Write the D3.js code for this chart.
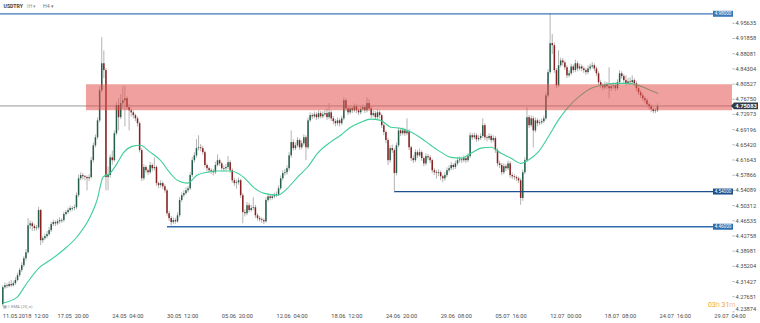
<!DOCTYPE html>
<html><head><meta charset="utf-8">
<script src="https://cdn.jsdelivr.net/npm/d3@7"></script>
<style>
body{margin:0;background:#fff;}
svg{display:block;font-family:Roboto,"Open Sans",sans-serif;}
</style>
</head><body>
<svg id="c" width="760" height="323"></svg>
<script>
const symbol = "USDTRY";
const timeframe = "H4";
const firstOpen = 4.258;
const close = [4.300,4.305,4.303,4.308,4.305,4.310,4.318,4.330,4.343,4.355,
4.372,4.387,4.454,4.459,4.452,4.447,4.449,4.492,4.417,4.422,
4.427,4.432,4.442,4.457,4.462,4.459,4.464,4.467,4.467,4.482,
4.487,4.492,4.497,4.497,4.499,4.529,4.571,4.579,4.576,4.574,
4.571,4.574,4.616,4.653,4.673,4.715,4.790,4.857,4.840,4.574,
4.579,4.623,4.616,4.683,4.753,4.723,4.758,4.765,4.770,4.748,
4.740,4.735,4.728,4.720,4.708,4.641,4.571,4.599,4.591,4.586,
4.604,4.596,4.599,4.559,4.554,4.559,4.551,4.541,4.484,4.472,
4.462,4.467,4.464,4.479,4.517,4.529,4.534,4.541,4.546,4.579,
4.616,4.628,4.646,4.648,4.646,4.636,4.604,4.596,4.591,4.589,
4.586,4.604,4.616,4.608,4.596,4.596,4.599,4.611,4.591,4.566,
4.559,4.561,4.566,4.529,4.487,4.484,4.504,4.492,4.497,4.499,
4.479,4.472,4.469,4.467,4.464,4.517,4.526,4.522,4.526,4.529,
4.531,4.546,4.571,4.584,4.586,4.596,4.628,4.661,4.646,4.653,
4.666,4.648,4.658,4.673,4.648,4.715,4.728,4.725,4.730,4.723,
4.733,4.725,4.730,4.733,4.723,4.735,4.720,4.713,4.708,4.715,
4.708,4.720,4.765,4.745,4.735,4.745,4.740,4.750,4.740,4.735,
4.743,4.748,4.740,4.758,4.745,4.728,4.733,4.723,4.735,4.728,
4.703,4.686,4.666,4.616,4.646,4.641,4.584,4.653,4.690,4.683,
4.690,4.683,4.688,4.648,4.621,4.616,4.636,4.628,4.636,4.621,
4.608,4.626,4.623,4.616,4.591,4.586,4.584,4.586,4.576,4.571,
4.579,4.591,4.596,4.604,4.599,4.608,4.616,4.618,4.616,4.621,
4.616,4.626,4.678,4.673,4.678,4.668,4.671,4.676,4.703,4.673,
4.671,4.676,4.666,4.671,4.641,4.608,4.604,4.586,4.601,4.596,
4.608,4.579,4.576,4.574,4.571,4.566,4.522,4.586,4.616,4.723,
4.703,4.720,4.690,4.715,4.708,4.710,4.713,4.720,4.777,4.835,
4.907,4.902,4.840,4.802,4.852,4.864,4.859,4.847,4.827,4.832,
4.849,4.840,4.857,4.844,4.849,4.844,4.840,4.835,4.844,4.849,
4.852,4.844,4.832,4.810,4.802,4.797,4.805,4.800,4.795,4.800,
4.802,4.795,4.810,4.832,4.825,4.815,4.807,4.812,4.810,4.815,
4.807,4.795,4.785,4.777,4.770,4.765,4.755,4.750,4.743,4.738,
4.740,4.7508];
const high = [4.305,4.312,4.310,4.315,4.318,4.316,4.325,4.336,4.348,4.362,
4.378,4.395,4.472,4.466,4.464,4.458,4.455,4.500,4.495,4.428,
4.434,4.440,4.450,4.463,4.468,4.466,4.470,4.474,4.472,4.488,
4.492,4.498,4.503,4.502,4.506,4.536,4.580,4.586,4.584,4.580,
4.578,4.581,4.624,4.660,4.680,4.722,4.800,4.922,4.889,4.845,
4.600,4.630,4.640,4.690,4.760,4.770,4.780,4.800,4.802,4.775,
4.755,4.745,4.740,4.732,4.725,4.712,4.646,4.606,4.603,4.595,
4.612,4.608,4.623,4.603,4.563,4.566,4.563,4.556,4.545,4.490,
4.477,4.474,4.472,4.486,4.524,4.536,4.541,4.548,4.552,4.586,
4.624,4.636,4.668,4.678,4.656,4.652,4.640,4.608,4.600,4.596,
4.594,4.612,4.630,4.620,4.612,4.603,4.606,4.626,4.616,4.596,
4.572,4.568,4.573,4.570,4.534,4.494,4.512,4.510,4.505,4.524,
4.505,4.484,4.477,4.474,4.472,4.524,4.533,4.530,4.532,4.535,
4.538,4.553,4.578,4.591,4.594,4.603,4.636,4.690,4.668,4.660,
4.673,4.670,4.665,4.680,4.678,4.722,4.735,4.733,4.737,4.735,
4.740,4.738,4.737,4.741,4.745,4.758,4.740,4.726,4.718,4.722,
4.720,4.727,4.772,4.770,4.750,4.752,4.750,4.757,4.755,4.745,
4.750,4.755,4.752,4.772,4.768,4.750,4.740,4.738,4.742,4.740,
4.732,4.708,4.690,4.672,4.653,4.655,4.646,4.660,4.697,4.695,
4.697,4.695,4.720,4.693,4.652,4.628,4.643,4.641,4.645,4.640,
4.625,4.633,4.631,4.628,4.620,4.596,4.592,4.593,4.590,4.580,
4.586,4.598,4.603,4.611,4.608,4.615,4.623,4.625,4.624,4.628,
4.626,4.633,4.685,4.683,4.685,4.683,4.678,4.683,4.720,4.708,
4.678,4.683,4.681,4.678,4.676,4.646,4.615,4.609,4.608,4.606,
4.615,4.613,4.585,4.581,4.578,4.575,4.571,4.593,4.623,4.748,
4.728,4.727,4.725,4.722,4.720,4.717,4.720,4.727,4.784,4.842,
4.981,4.930,4.908,4.845,4.889,4.871,4.870,4.864,4.852,4.840,
4.856,4.854,4.866,4.862,4.856,4.854,4.849,4.845,4.852,4.856,
4.860,4.857,4.849,4.837,4.815,4.807,4.812,4.810,4.847,4.807,
4.809,4.807,4.817,4.840,4.837,4.830,4.827,4.820,4.822,4.827,
4.820,4.812,4.800,4.790,4.782,4.775,4.770,4.760,4.755,4.748,
4.746,4.757];
const low = [4.253,4.296,4.298,4.300,4.301,4.302,4.306,4.315,4.326,4.338,
4.350,4.366,4.383,4.445,4.440,4.440,4.441,4.444,4.405,4.410,
4.418,4.422,4.428,4.437,4.452,4.452,4.455,4.458,4.460,4.462,
4.478,4.482,4.488,4.490,4.491,4.494,4.524,4.566,4.568,4.566,
4.541,4.564,4.570,4.610,4.648,4.668,4.710,4.785,4.820,4.541,
4.541,4.572,4.605,4.612,4.678,4.690,4.718,4.745,4.700,4.742,
4.690,4.725,4.720,4.713,4.700,4.635,4.564,4.566,4.584,4.579,
4.582,4.588,4.590,4.552,4.546,4.548,4.544,4.535,4.478,4.465,
4.454,4.457,4.458,4.460,4.474,4.512,4.524,4.530,4.536,4.542,
4.574,4.610,4.622,4.640,4.638,4.630,4.598,4.588,4.584,4.582,
4.578,4.582,4.600,4.602,4.590,4.588,4.590,4.594,4.585,4.560,
4.552,4.545,4.555,4.522,4.459,4.476,4.479,4.486,4.488,4.492,
4.472,4.466,4.463,4.460,4.457,4.460,4.512,4.516,4.518,4.521,
4.524,4.527,4.542,4.566,4.578,4.580,4.590,4.622,4.640,4.641,
4.648,4.642,4.643,4.652,4.616,4.643,4.710,4.718,4.720,4.716,
4.718,4.720,4.720,4.725,4.716,4.718,4.713,4.705,4.700,4.702,
4.700,4.703,4.715,4.738,4.728,4.730,4.733,4.735,4.733,4.728,
4.730,4.738,4.733,4.735,4.738,4.721,4.723,4.716,4.718,4.720,
4.696,4.678,4.658,4.604,4.610,4.634,4.536,4.578,4.648,4.676,
4.678,4.676,4.678,4.641,4.614,4.609,4.611,4.621,4.624,4.614,
4.601,4.603,4.616,4.609,4.584,4.579,4.570,4.576,4.566,4.561,
4.565,4.574,4.586,4.591,4.592,4.594,4.603,4.610,4.609,4.611,
4.609,4.611,4.621,4.666,4.668,4.661,4.663,4.666,4.671,4.666,
4.663,4.666,4.659,4.661,4.634,4.601,4.596,4.579,4.581,4.589,
4.591,4.572,4.569,4.567,4.564,4.559,4.505,4.515,4.581,4.611,
4.696,4.698,4.648,4.685,4.700,4.703,4.705,4.708,4.715,4.772,
4.830,4.880,4.833,4.795,4.797,4.847,4.851,4.840,4.820,4.822,
4.827,4.833,4.835,4.837,4.839,4.837,4.833,4.828,4.830,4.839,
4.844,4.837,4.825,4.803,4.795,4.790,4.792,4.793,4.770,4.788,
4.793,4.788,4.790,4.805,4.818,4.808,4.800,4.802,4.803,4.805,
4.800,4.788,4.778,4.770,4.763,4.757,4.748,4.742,4.736,4.733,
4.733,4.736];
// EMA(20) line, read at sample bars
const maBar = [0,6.7,11.4,17.6,22.4,28.6,35.2,41.4,44.8,47.6,51,54.3,57.1,61.9,65.2,70,74.8,79.5,82.9,87.6,92.4,97.1,101.9,108.1,114.3,119,123.8,130.5,135.2,140,144.8,149.5,155.7,160.5,165.2,170,174.8,179.5,184.3,189,193.8,198.6,203.3,208.1,212.9,217.6,222.4,227.1,231.9,236.7,241.4,246.2,249.5,254.3,259,263.8,268.6,273.3,279.5,284.3,290.5,297.1,301.9,306.7,311.4];
const maValue = [4.261,4.275,4.310,4.350,4.367,4.392,4.425,4.474,4.517,4.574,4.584,4.608,4.633,4.651,4.653,4.636,4.616,4.584,4.566,4.559,4.579,4.586,4.589,4.589,4.574,4.549,4.534,4.529,4.546,4.574,4.599,4.633,4.661,4.678,4.698,4.710,4.718,4.715,4.698,4.695,4.686,4.671,4.653,4.636,4.623,4.621,4.633,4.646,4.648,4.633,4.621,4.608,4.616,4.636,4.673,4.715,4.748,4.772,4.795,4.802,4.807,4.807,4.802,4.792,4.782];
const yTicks = [4.95635,4.91858,4.88081,4.84304,4.80527,4.76750,4.72973,4.69196,4.65420,4.61643,4.57866,4.54089,4.50312,4.46535,4.42758,4.38981,4.35204,4.31427,4.27651,4.23874];
const xTickBars = [0,26,52,78,104,130,156,182,208,234,260,286,312,338];
const xTickLabels = ["11.05.2018  12:00","17.05  20:00","24.05  04:00","30.05  12:00","05.06  20:00","12.06  04:00","18.06  12:00","24.06  20:00","29.06  08:00","05.07  16:00","12.07  00:00","18.07  08:00","24.07  16:00","29.07  04:00"];
const zoneLow = 4.7402, zoneHigh = 4.8048, zoneStartBar = 39.5;
const levelValues = [4.98, 4.538, 4.4505];
const levelLabels = ["4.98000","4.54000","4.46000"];
const levelStartBars = [-2, 186, 78];
const lastPrice = 4.75083;
const timerText = [["03","d"],["h ","l"],["31","d"],["m","l"]];

const svg = d3.select("#c");
const plotRight = 732;
const x = d3.scaleLinear().domain([0, close.length - 1]).range([2.8, 657.5]);
const y = d3.scaleLinear().domain([4.27651, 4.95635]).range([296.7, 23.3]);
const bars = close.map((c, i) => ({i, o: i === 0 ? firstOpen : close[i-1], c, h: high[i], l: low[i]}));

// last price line
svg.append("line").attr("x1", 0).attr("x2", plotRight).attr("y1", y(lastPrice)).attr("y2", y(lastPrice))
  .attr("stroke", "#8c8c8c").attr("stroke-width", 0.9);

// candles
const g = svg.append("g");
g.selectAll("line.w").data(bars).join("line").attr("class","w")
  .attr("x1", d => x(d.i)).attr("x2", d => x(d.i))
  .attr("y1", d => y(d.h)).attr("y2", d => y(d.l))
  .attr("stroke", "#b4b4b4").attr("stroke-width", 1);
g.selectAll("rect.b").data(bars).join("rect").attr("class","b")
  .attr("x", d => x(d.i) - 0.75).attr("width", 1.5)
  .attr("y", d => y(Math.max(d.o, d.c)))
  .attr("height", d => Math.max(0.8, Math.abs(y(d.o) - y(d.c))))
  .attr("fill", d => d.c >= d.o ? "#255e4c" : "#8a1f1f");

// moving average
const ma = maBar.map((b, k) => ({b, v: maValue[k]}));
svg.append("path").datum(ma)
  .attr("d", d3.line().x(d => x(d.b)).y(d => y(d.v)).curve(d3.curveMonotoneX))
  .attr("fill", "none").attr("stroke", "#3ccf96").attr("stroke-width", 1.1);

// resistance zone
svg.append("rect").attr("x", x(zoneStartBar)).attr("width", plotRight - x(zoneStartBar))
  .attr("y", y(zoneHigh)).attr("height", y(zoneLow) - y(zoneHigh))
  .attr("fill", "rgb(228,82,79)").attr("fill-opacity", 0.55);

// horizontal levels
const levelColors = ["#3a79b6","#1f4f8d","#2f6eae"];
levelValues.forEach((v, k) => {
  const yy = y(v);
  svg.append("line").attr("x1", Math.max(0, x(levelStartBars[k]))).attr("x2", 713)
    .attr("y1", yy).attr("y2", yy).attr("stroke", levelColors[k]).attr("stroke-width", 1.3);
  svg.append("rect").attr("x", 713).attr("y", yy - 3).attr("width", 20).attr("height", 6)
    .attr("fill", levelColors[k]);
  svg.append("text").attr("x", 723).attr("y", yy).attr("dy", "0.35em")
    .attr("text-anchor", "middle").attr("font-size", 4.6).attr("fill", "#fff").text(levelLabels[k]);
});

// y axis
const ya = svg.append("g");
yTicks.forEach(v => {
  const yy = y(v);
  ya.append("line").attr("x1", 732.5).attr("x2", 734.5).attr("y1", yy).attr("y2", yy).attr("stroke", "#777").attr("stroke-width", 0.6);
  ya.append("text").attr("x", 735.5).attr("y", Math.min(yy, 309.5)).attr("dy", "0.35em")
    .attr("font-size", 5.7).attr("fill", "#4a4a4a").text(d3.format(".5f")(v));
});

// last price label
const ly = y(lastPrice);
svg.append("path").attr("d", `M731,${ly} L734,${ly-3.4} L758,${ly-3.4} L758,${ly+3.4} L734,${ly+3.4} Z`)
  .attr("fill", "#2f3c47");
svg.append("text").attr("x", 746).attr("y", ly).attr("dy", "0.36em").attr("text-anchor", "middle")
  .attr("font-size", 5.8).attr("font-weight", "bold").attr("fill", "#fff").text(d3.format(".5f")(lastPrice));

// x axis labels
const xa = svg.append("g").style("white-space", "pre");
xTickBars.forEach((b, k) => {
  xa.append("text").attr("x", x(b)).attr("y", 317.6).attr("font-size", 5.7).attr("fill", "#4a4a4a")
    .attr("xml:space", "preserve").text(xTickLabels[k]);
});

// header
const hd = svg.append("g").attr("font-size", 5.2);
hd.append("text").attr("x", 3.5).attr("y", 7.8).attr("fill", "#444").attr("font-weight", "bold").text(symbol);
hd.append("text").attr("x", 27).attr("y", 7.8).attr("fill", "#999").text("IH ▾");
hd.append("text").attr("x", 43).attr("y", 7.8).attr("fill", "#777").text(timeframe + " ▾");

// indicator legend
svg.append("text").attr("x", 2.5).attr("y", 307.5).attr("font-size", 4.2).attr("fill", "#888").text("▦ ≡ EMA (20, c)");

// candle timer
const tt = svg.append("text").attr("x", 708).attr("y", 306.5).attr("font-size", 7);
timerText.forEach(([s, t]) => tt.append("tspan").attr("fill", t === "d" ? "#f3a631" : "#f6c27a").attr("xml:space","preserve").text(s));
</script>
</body></html>
